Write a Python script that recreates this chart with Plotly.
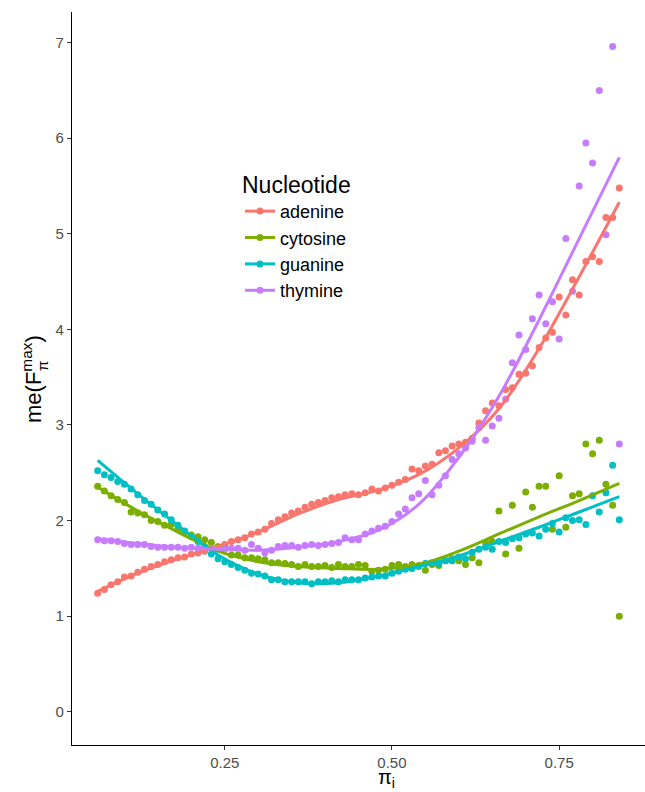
import plotly.graph_objects as go

# allele frequency pi_i (x positions of the points)
PI = [0.06, 0.07, 0.08, 0.09, 0.10, 0.11, 0.12, 0.13, 0.14, 0.15,
      0.16, 0.17, 0.18, 0.19, 0.20, 0.21, 0.22, 0.23, 0.24, 0.25,
      0.26, 0.27, 0.28, 0.29, 0.30, 0.31, 0.32, 0.33, 0.34, 0.35,
      0.36, 0.37, 0.38, 0.39, 0.40, 0.41, 0.42, 0.43, 0.44, 0.45,
      0.46, 0.47, 0.48, 0.49, 0.50, 0.51, 0.52, 0.53, 0.54, 0.55,
      0.56, 0.57, 0.58, 0.59, 0.60, 0.61, 0.62, 0.63, 0.64, 0.65,
      0.66, 0.67, 0.68, 0.69, 0.70, 0.71, 0.72, 0.73, 0.74, 0.75,
      0.76, 0.77, 0.78, 0.79, 0.80, 0.81, 0.82, 0.83, 0.84]

adenine = [1.24, 1.28, 1.33, 1.36, 1.41, 1.42, 1.46, 1.49, 1.52, 1.54,
           1.57, 1.59, 1.61, 1.62, 1.65, 1.66, 1.68, 1.71, 1.73, 1.75,
           1.78, 1.80, 1.82, 1.86, 1.88, 1.91, 1.97, 2.01, 2.04, 2.08,
           2.10, 2.14, 2.17, 2.19, 2.21, 2.24, 2.25, 2.27, 2.28, 2.27,
           2.29, 2.33, 2.31, 2.34, 2.37, 2.40, 2.43, 2.54, 2.52, 2.57,
           2.59, 2.71, 2.73, 2.78, 2.80, 2.82, 2.86, 3.02, 3.15, 3.23,
           3.20, 3.37, 3.39, 3.53, 3.54, 3.62, 3.81, 3.91, 3.97, 4.34,
           4.15, 4.52, 4.36, 4.71, 4.76, 4.71, 5.17, 5.17, 5.48]

cytosine = [2.36, 2.31, 2.26, 2.22, 2.19, 2.09, 2.08, 2.06, 2.00, 1.99,
            1.95, 1.96, 1.91, 1.88, 1.85, 1.83, 1.80, 1.77, 1.72, 1.72,
            1.64, 1.64, 1.61, 1.61, 1.60, 1.59, 1.56, 1.56, 1.55, 1.54,
            1.52, 1.54, 1.52, 1.52, 1.53, 1.51, 1.54, 1.52, 1.52, 1.54,
            1.53, 1.47, 1.48, 1.49, 1.53, 1.54, 1.52, 1.54, 1.53, 1.48,
            1.54, 1.53, 1.58, 1.60, 1.58, 1.54, 1.61, 1.56, 1.77, 1.78,
            2.10, 1.65, 2.16, 1.71, 2.30, 2.14, 2.36, 2.36, 1.91, 2.47,
            1.93, 2.26, 2.28, 2.80, 2.70, 2.84, 2.38, 2.16, 1.00]

guanine = [2.52, 2.48, 2.45, 2.41, 2.38, 2.33, 2.27, 2.21, 2.17, 2.11,
           2.07, 2.01, 1.95, 1.89, 1.83, 1.78, 1.73, 1.65, 1.60, 1.57,
           1.54, 1.51, 1.48, 1.45, 1.44, 1.42, 1.38, 1.38, 1.36, 1.36,
           1.36, 1.36, 1.34, 1.36, 1.36, 1.37, 1.36, 1.38, 1.38, 1.38,
           1.40, 1.41, 1.42, 1.42, 1.45, 1.47, 1.49, 1.50, 1.52, 1.55,
           1.56, 1.55, 1.58, 1.58, 1.62, 1.60, 1.67, 1.70, 1.72, 1.70,
           1.78, 1.77, 1.81, 1.82, 1.86, 1.87, 1.84, 1.91, 1.97, 1.88,
           2.03, 2.00, 2.01, 1.96, 2.26, 2.09, 2.29, 2.58, 2.01]

thymine = [1.80, 1.79, 1.79, 1.78, 1.76, 1.75, 1.75, 1.75, 1.73, 1.72,
           1.72, 1.72, 1.72, 1.71, 1.72, 1.71, 1.71, 1.71, 1.70, 1.70,
           1.71, 1.71, 1.69, 1.75, 1.71, 1.66, 1.69, 1.73, 1.74, 1.74,
           1.72, 1.74, 1.75, 1.74, 1.75, 1.76, 1.77, 1.82, 1.80, 1.80,
           1.86, 1.89, 1.92, 1.94, 1.99, 2.07, 2.12, 2.24, 2.28, 2.42,
           2.27, 2.37, 2.47, 2.64, 2.70, 2.76, 2.83, 2.97, 2.84, 2.99,
           3.07, 3.27, 3.65, 3.94, 3.79, 4.11, 4.36, 4.06, 4.29, 3.90,
           4.95, 4.40, 5.50, 5.95, 5.74, 6.50, 4.99, 6.96, 2.80]

# smoothed (loess) curves, read at knots
SMOOTH_X = [0.06, 0.12, 0.18, 0.24, 0.30, 0.36, 0.42, 0.48, 0.54, 0.60, 0.66, 0.72, 0.78, 0.84]
adenine_fit = [1.26, 1.45, 1.60, 1.73, 1.88, 2.07, 2.22, 2.32, 2.48, 2.76, 3.17, 3.80, 4.55, 5.33]
cytosine_fit = [2.35, 2.10, 1.88, 1.68, 1.57, 1.52, 1.50, 1.49, 1.54, 1.68, 1.86, 2.04, 2.21, 2.39]
guanine_fit = [2.63, 2.28, 1.95, 1.64, 1.44, 1.35, 1.35, 1.42, 1.52, 1.63, 1.78, 1.93, 2.09, 2.25]
thymine_fit = [1.81, 1.76, 1.72, 1.70, 1.69, 1.72, 1.78, 1.90, 2.17, 2.66, 3.30, 4.10, 4.95, 5.80]

NAMES = ["adenine", "cytosine", "guanine", "thymine"]
COLORS = ["#F8766D", "#7CAE00", "#00BFC4", "#C77CFF"]
POINTS = [adenine, cytosine, guanine, thymine]
FITS = [adenine_fit, cytosine_fit, guanine_fit, thymine_fit]

X_TICKS = [0.25, 0.50, 0.75]
X_TICK_LABELS = ["0.25", "0.50", "0.75"]
Y_TICKS = [0, 1, 2, 3, 4, 5, 6, 7]

FONT = "Liberation Sans, Arial, Helvetica, sans-serif"

W, H = 645, 792
ML, MR, MT, MB = 72, 0, 12, 47
PW, PH = W - ML - MR, H - MT - MB


def px_x(p):
    return (p - ML) / PW


def px_y(p):
    return (H - MB - p) / PH


fig = go.Figure()

for name, col, ys in zip(NAMES, COLORS, POINTS):
    fig.add_trace(go.Scatter(
        x=PI, y=ys, mode="markers", name=name, showlegend=False,
        marker=dict(color=col, size=7, line=dict(width=0)),
        hoverinfo="x+y"))

for name, col, ys in zip(NAMES, COLORS, FITS):
    fig.add_trace(go.Scatter(
        x=SMOOTH_X, y=ys, mode="lines", name=name, showlegend=False,
        line=dict(color=col, width=3, shape="spline", smoothing=1.0)))

for name, col in zip(NAMES, COLORS):
    fig.add_trace(go.Scatter(
        x=[None], y=[None], mode="lines+markers", name=name, showlegend=True,
        line=dict(color=col, width=3), marker=dict(color=col, size=7)))

annotations = [
    # x-axis title
    dict(text="π<sub>i</sub>", x=px_x(386), y=px_y(779), xref="paper", yref="paper",
         xanchor="center", yanchor="middle", showarrow=False,
         font=dict(size=20, color="black")),
    # y-axis title main part
    dict(text="me(F<sup>max</sup>)", x=px_x(32), y=px_y(379), xref="paper", yref="paper",
         xanchor="center", yanchor="middle", showarrow=False, textangle=-90,
         font=dict(size=22, color="black")),
    # stacked subscript pi under "max"
    dict(text="π", x=px_x(42), y=px_y(366), xref="paper", yref="paper",
         xanchor="center", yanchor="middle", showarrow=False, textangle=-90,
         font=dict(size=15, color="black")),
]

fig.update_layout(
    width=W, height=H,
    margin=dict(l=ML, r=MR, t=MT, b=MB, autoexpand=False),
    paper_bgcolor="white", plot_bgcolor="white",
    font=dict(family=FONT, color="black"),
    showlegend=True,
    annotations=annotations,
    legend=dict(
        x=px_x(240), y=px_y(163), xanchor="left", yanchor="top",
        title=dict(text="Nucleotide", font=dict(size=23, color="black")),
        font=dict(size=18, color="black"),
        bgcolor="rgba(0,0,0,0)", tracegroupgap=0, itemwidth=30,
    ),
    xaxis=dict(
        range=[0.0216, 0.8784], tickvals=X_TICKS, ticktext=X_TICK_LABELS,
        showgrid=False, zeroline=False, showline=True, linecolor="black", linewidth=1.3,
        ticks="outside", ticklen=4, tickcolor="#333333", tickwidth=1.1,
        tickfont=dict(size=15, color="#4D4D4D"),
    ),
    yaxis=dict(
        range=[-0.3475, 7.32], tickvals=Y_TICKS,
        showgrid=False, zeroline=False, showline=True, linecolor="black", linewidth=1.3,
        ticks="outside", ticklen=4, tickcolor="#333333", tickwidth=1.1,
        tickfont=dict(size=15, color="#4D4D4D"),
    ),
)

fig.write_html("out.html")
